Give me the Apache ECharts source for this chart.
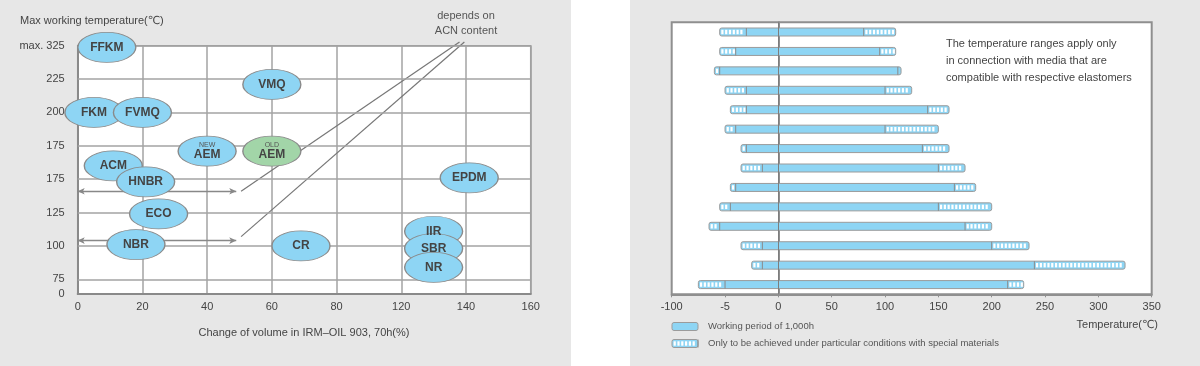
<!DOCTYPE html>
<html><head><meta charset="utf-8">
<script src="https://cdn.jsdelivr.net/npm/echarts@6/dist/echarts.min.js"></script>
<style>
html,body{margin:0;padding:0;background:#fff;}
#wrap{position:relative;width:1200px;height:366px;overflow:hidden;}
.pan{position:absolute;top:0;height:366px;background:#e7e7e7;}
#c{position:absolute;left:0;top:0;width:1200px;height:366px;}
</style>
</head><body>
<div id="wrap"><div class="pan" style="left:0;width:571px"></div><div class="pan" style="left:630px;width:570px"></div><div id="c"></div></div>
<script>
// ---------- Left chart data ----------
const leftXTickValues = [0, 20, 40, 60, 80, 120, 140, 160];
const leftXTickLabels = ['0', '20', '40', '60', '80', '120', '140', '160'];
const leftYTickValues = [0, 75, 100, 125, 150, 175, 200, 225, 325];
const leftYTickLabels = ['0', '75', '100', '125', '175', '175', '200', '225', 'max. 325'];
const elastomerNames = ['FFKM', 'FKM', 'FVMQ', 'VMQ', 'AEM', 'AEM', 'ACM', 'HNBR', 'ECO', 'NBR', 'CR', 'EPDM', 'IIR', 'SBR', 'NR'];
const elastomerTags  = ['', '', '', '', 'NEW', 'OLD', '', '', '', '', '', '', '', '', ''];
const volumeChange   = [9, 5, 20, 60, 40, 60, 11, 21, 25, 18, 69, 141, 130, 130, 130];
const maxTemp        = [320, 200, 200, 221, 171, 171, 160, 148, 124, 101, 100, 151, 111, 98, 84];
const arrowTemps = [141, 104];
const arrowVolumeRange = [0, 49];
const acnLineStarts = [[138, 336], [139.5, 336]];
const acnLineEnds = [[50.5, 141], [50.5, 107]];
const leftYTitle = 'Max working temperature(℃)';
const leftXTitle = 'Change of volume in IRM–OIL 903, 70h(%)';
const acnNote = ['depends on', 'ACN content'];

// ---------- Right chart data ----------
const rightRows = ['1','2','3','4','5','6','7','8','9','10','11','12','13','14'];
const specialLow  = [-55, -55, -60, -50, -45, -50, -35, -35, -45, -55, -65, -35, -25, -75];
const workLow     = [-30, -40, -55, -30, -30, -40, -30, -15, -40, -45, -55, -15, -15, -50];
const workHigh    = [80, 95, 112, 100, 140, 100, 135, 150, 165, 150, 175, 200, 240, 215];
const specialHigh = [110, 110, 115, 125, 160, 150, 160, 175, 185, 200, 200, 235, 325, 230];
const rightXTickValues = [-100, -50, 0, 50, 100, 150, 200, 250, 300, 350];
const rightXTickLabels = ['-100', '-5', '0', '50', '100', '150', '200', '250', '300', '350'];
const rightXTitle = 'Temperature(℃)';
const rightNote = ['The temperature ranges apply only', 'in connection with media that are', 'compatible with respective elastomers'];
const legendLabels = ['Working period of 1,000h', 'Only to be achieved under particular conditions with special materials'];

// ---------- helpers ----------
const BLUE = '#8ed5f4';
const GREEN = '#a2d5a8';
const FONT = '"Liberation Sans", Arial, "DejaVu Sans", sans-serif';
function interp(v, xs, ys) {
  let i = 0;
  while (i < xs.length - 2 && v > xs[i + 1]) i++;
  return ys[i] + (v - xs[i]) * (ys[i + 1] - ys[i]) / (xs[i + 1] - xs[i]);
}
const xSlots = leftXTickValues.map((_, i) => i);
const ySlots = leftYTickValues.map((_, i) => i === 0 ? 0 : i - 1 + 0.44);
const px = v => interp(v, leftXTickValues, xSlots);
const py = v => interp(v, leftYTickValues, ySlots);

function barShapes(xs, cy, h) {
  const [a, b, c, d] = xs;
  const top = cy - h / 2;
  const ch = [{ type: 'rect', shape: { x: a, y: top, width: d - a, height: h, r: 2 }, style: { fill: BLUE, stroke: '#9b9b9b', lineWidth: 1 } }];
  const hatch = (x1, x2) => {
    for (let x = x1 + 1.6; x + 2.2 <= x2 - 0.8; x += 3.8) {
      ch.push({ type: 'rect', shape: { x: x, y: top + 1.8, width: 2.2, height: h - 3.6 }, style: { fill: '#fff' } });
    }
  };
  hatch(a, b); hatch(c, d);
  if (b - a > 0.5) ch.push({ type: 'line', shape: { x1: b, y1: top, x2: b, y2: top + h }, style: { stroke: '#8a8a8a', lineWidth: 1 } });
  if (d - c > 0.5) ch.push({ type: 'line', shape: { x1: c, y1: top, x2: c, y2: top + h }, style: { stroke: '#8a8a8a', lineWidth: 1 } });
  return ch;
}
function renderBar(params, api) {
  const row = api.value(0);
  const xs = [1, 2, 3, 4].map(k => api.coord([api.value(k), row])[0]);
  const cy = api.coord([0, row])[1];
  return { type: 'group', children: barShapes(xs, cy, 8) };
}

const chart = echarts.init(document.getElementById('c'), null, { renderer: 'canvas' });

const scatterData = elastomerNames.map((n, i) => ({
  name: n,
  value: [px(volumeChange[i]), py(maxTemp[i])],
  tag: elastomerTags[i],
  itemStyle: { color: elastomerTags[i] === 'OLD' ? GREEN : BLUE }
}));

const legendSwatch1 = barShapes([672, 672, 698, 698], 326.5, 8);
const legendSwatch2 = barShapes([672, 698, 698, 698], 343.5, 8);

const option = {
  backgroundColor: 'transparent',
  animation: false,
  textStyle: { fontFamily: FONT },
  grid: [
    { left: 77.7, top: 45.7, width: 453, height: 248.3, show: true, backgroundColor: '#fff', borderColor: '#9a9a9a', borderWidth: 1.5 },
    { left: 671.7, top: 22.3, width: 480, height: 272, show: true, backgroundColor: '#fff', borderColor: '#8f8f8f', borderWidth: 2 }
  ],
  xAxis: [
    { type: 'value', gridIndex: 0, min: 0, max: 7, interval: 1,
      axisLine: { show: true, lineStyle: { color: '#8a8a8a', width: 2 } },
      axisTick: { show: false },
      splitLine: { show: true, lineStyle: { color: '#a3a3a3', width: 1.5 } },
      axisLabel: { formatter: v => leftXTickLabels[Math.round(v)], color: '#444', fontSize: 11, margin: 7, fontFamily: FONT } },
    { type: 'value', gridIndex: 1, min: -100, max: 350, interval: 50,
      axisLine: { show: true, lineStyle: { color: '#8f8f8f', width: 2 } },
      axisTick: { show: true, length: 3, lineStyle: { color: '#8f8f8f' } },
      splitLine: { show: false },
      axisLabel: { formatter: v => { const i = rightXTickValues.indexOf(v); return i < 0 ? '' : rightXTickLabels[i]; }, color: '#444', fontSize: 11, margin: 7, fontFamily: FONT } }
  ],
  yAxis: [
    { type: 'value', gridIndex: 0, min: 0, max: ySlots[ySlots.length - 1],
      axisLine: { show: true, lineStyle: { color: '#8a8a8a', width: 2 } },
      axisTick: { show: false },
      splitLine: { show: false },
      axisLabel: { customValues: ySlots, formatter: v => { const i = ySlots.findIndex(s => Math.abs(s - v) < 1e-6); return i < 0 ? '' : leftYTickLabels[i]; }, color: '#444', fontSize: 11, margin: 13, fontFamily: FONT } },
    { type: 'category', gridIndex: 1, data: rightRows, inverse: true,
      axisLine: { show: true, lineStyle: { color: '#8f8f8f', width: 2 } },
      axisTick: { show: false }, axisLabel: { show: false }, splitLine: { show: false } }
  ],
  series: [
    { // horizontal grid lines (left)
      type: 'line', xAxisIndex: 0, yAxisIndex: 0, data: [], z: 1, silent: true,
      markLine: { silent: true, symbol: ['none', 'none'], label: { show: false },
        lineStyle: { color: '#a3a3a3', width: 1.5, type: 'solid' },
        emphasis: { disabled: true },
        data: ySlots.slice(1).map(s => ({ yAxis: s })) }
    },
    ...acnLineStarts.map((s, i) => ({
      type: 'line', xAxisIndex: 0, yAxisIndex: 0, z: 2, silent: true, clip: false,
      symbol: 'none', lineStyle: { color: '#777', width: 1.2 },
      data: [[px(s[0]), py(s[1])], [px(acnLineEnds[i][0]), py(acnLineEnds[i][1])]]
    })),
    { // double-headed arrows
      type: 'line', xAxisIndex: 0, yAxisIndex: 0, data: [], z: 2, silent: true,
      markLine: { silent: true, symbol: ['arrow', 'arrow'], symbolSize: [5, 7], label: { show: false },
        lineStyle: { color: '#888', width: 1.3, type: 'solid' },
        emphasis: { disabled: true },
        data: arrowTemps.map(t => [{ coord: [px(arrowVolumeRange[0]), py(t)] }, { coord: [px(arrowVolumeRange[1]), py(t)] }]) }
    },
    {
      type: 'scatter', xAxisIndex: 0, yAxisIndex: 0, z: 5, silent: true,
      symbol: 'circle', symbolSize: [58, 30],
      itemStyle: { borderColor: '#8a8a8a', borderWidth: 1, opacity: 1 },
      label: {
        show: true, position: 'inside',
        formatter: p => p.data.tag ? '{s|' + p.data.tag + '}\n{b|' + p.data.name + '}' : '{b|' + p.data.name + '}',
        rich: {
          s: { fontSize: 7, color: '#555', lineHeight: 8, fontFamily: FONT },
          b: { fontSize: 12, fontWeight: 'bold', color: '#444', lineHeight: 13, fontFamily: FONT }
        }
      },
      data: scatterData
    },
    {
      type: 'custom', xAxisIndex: 1, yAxisIndex: 1, z: 3, silent: true,
      renderItem: renderBar,
      encode: { x: [1, 2, 3, 4], y: 0 },
      data: rightRows.map((r, i) => [i, specialLow[i], workLow[i], workHigh[i], specialHigh[i]])
    },
    { // zero line
      type: 'line', xAxisIndex: 1, yAxisIndex: 1, data: [], z: 6, silent: true,
      markLine: { silent: true, symbol: ['none', 'none'], label: { show: false },
        lineStyle: { color: '#7d7d7d', width: 1, type: 'solid' },
        emphasis: { disabled: true },
        data: [{ xAxis: 0 }] }
    }
  ],
  graphic: [
    { type: 'text', z: 100, left: 20, top: 15, style: { text: leftYTitle, fill: '#444', font: '11px ' + FONT } },
    { type: 'text', z: 100, x: 304, y: 333, style: { text: leftXTitle, fill: '#444', font: '11px ' + FONT, textAlign: 'center', textVerticalAlign: 'middle' } },
    { type: 'text', z: 100, x: 466, y: 16, style: { text: acnNote[0], fill: '#555', font: '11px ' + FONT, textAlign: 'center', textVerticalAlign: 'middle' } },
    { type: 'text', z: 100, x: 466, y: 31, style: { text: acnNote[1], fill: '#555', font: '11px ' + FONT, textAlign: 'center', textVerticalAlign: 'middle' } },
    ...rightNote.map((t, i) => ({ type: 'text', z: 100, x: 946, y: 43.5 + i * 17.4, style: { text: t, fill: '#444', font: '11px ' + FONT, textVerticalAlign: 'middle' } })),
    { type: 'text', z: 100, x: 1158, y: 324.5, style: { text: rightXTitle, fill: '#444', font: '11px ' + FONT, textAlign: 'right', textVerticalAlign: 'middle' } },
    { type: 'group', z: 100, children: legendSwatch1 },
    { type: 'group', z: 100, children: legendSwatch2 },
    { type: 'text', z: 100, x: 708, y: 326.5, style: { text: legendLabels[0], fill: '#555', font: '9.5px ' + FONT, textVerticalAlign: 'middle' } },
    { type: 'text', z: 100, x: 708, y: 343.5, style: { text: legendLabels[1], fill: '#555', font: '9.5px ' + FONT, textVerticalAlign: 'middle' } }
  ]
};
chart.setOption(option);
</script>
</body></html>
